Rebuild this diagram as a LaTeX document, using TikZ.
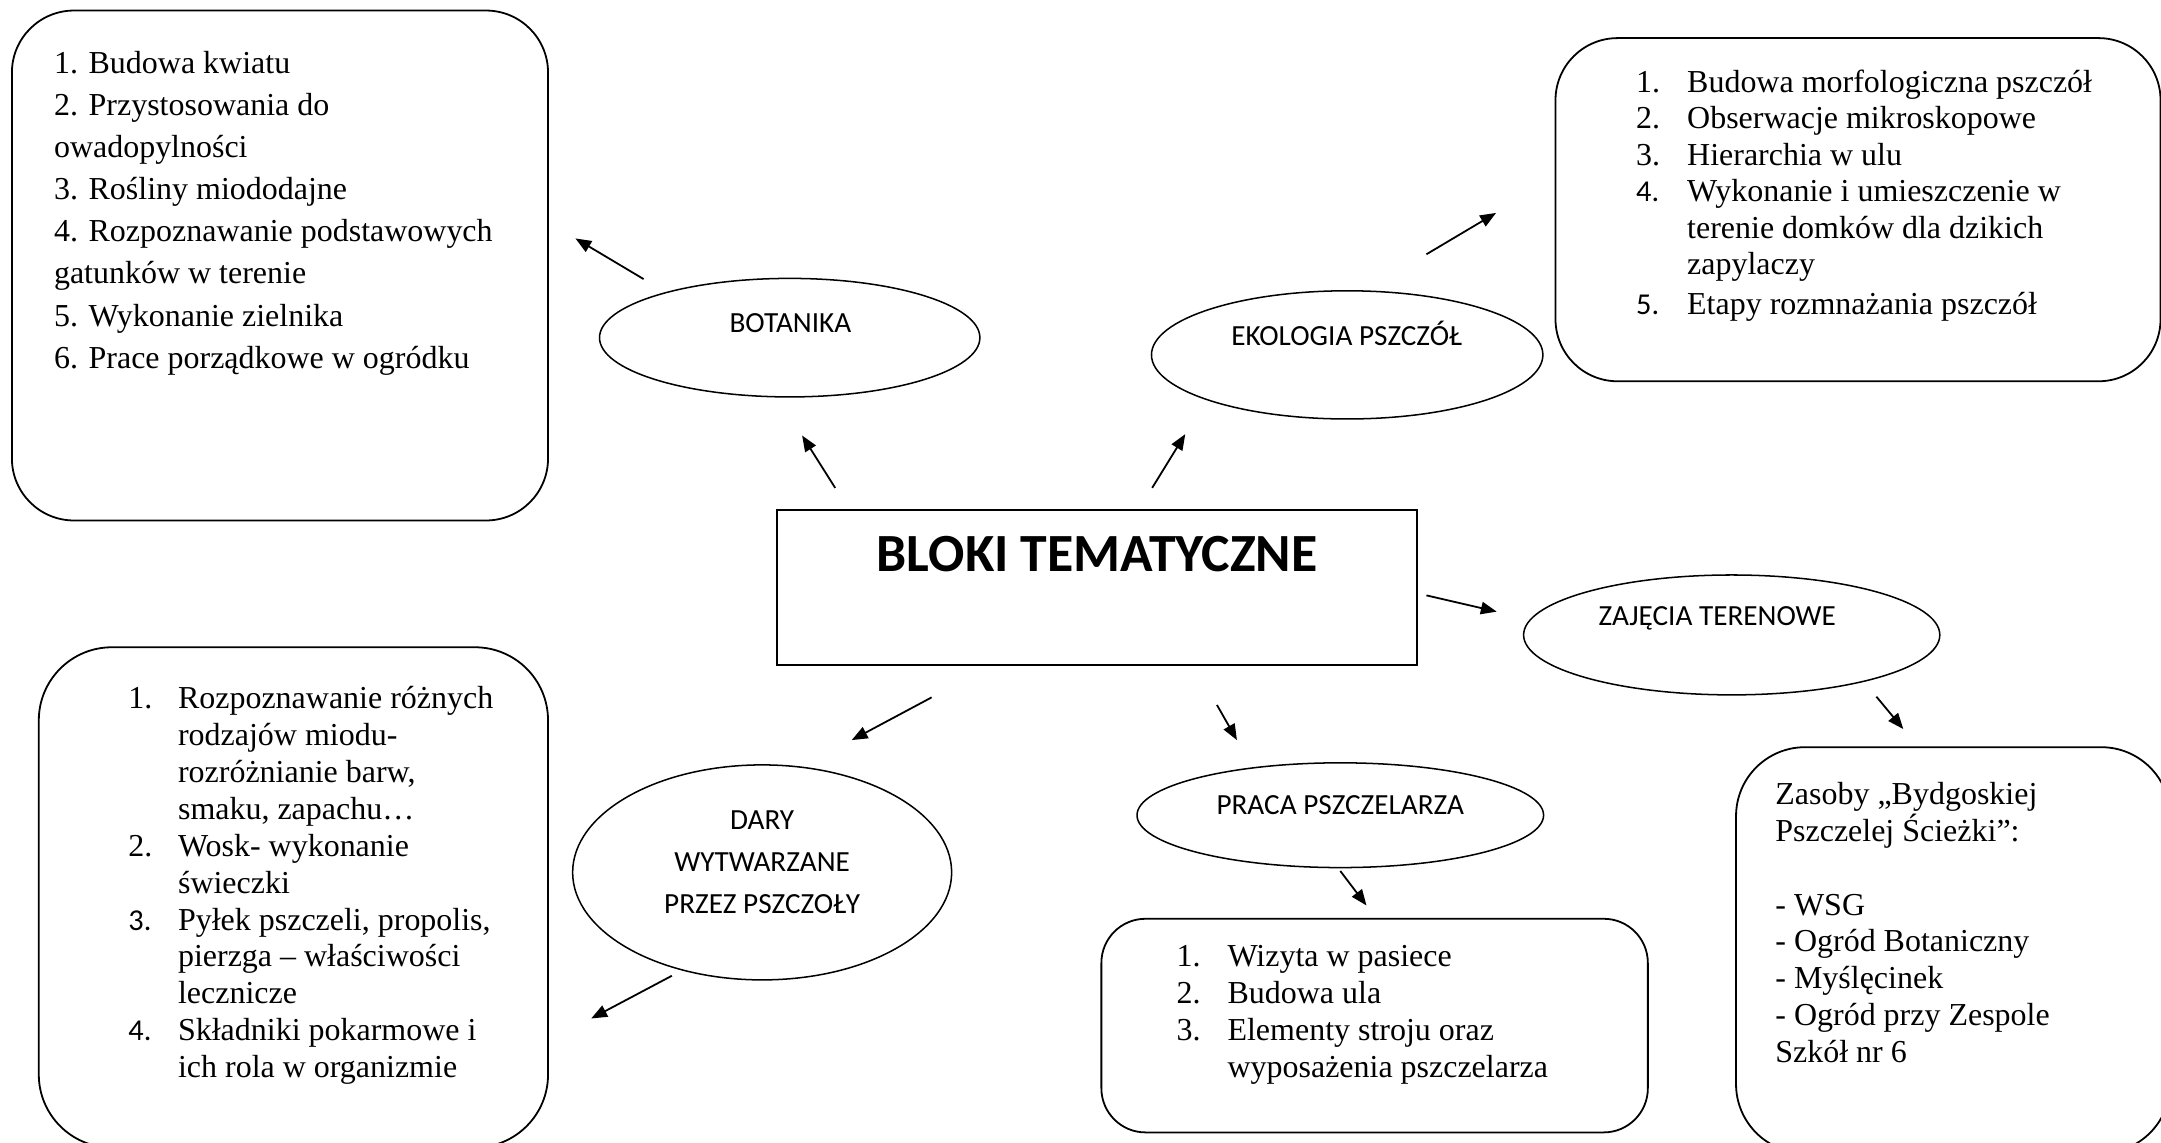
\documentclass[tikz,border=0pt]{standalone}
\usepackage{fontspec}
\setmainfont{Liberation Serif}
\newfontfamily\carlito{Carlito}
\usetikzlibrary{shapes.geometric,arrows.meta}
\begin{document}
\begin{tikzpicture}[x=1pt,y=-1pt,
  roundbox/.style={draw, line width=1.3pt, inner sep=0pt, anchor=north west},
  oval/.style={draw, ellipse, line width=1.1pt, inner sep=0pt},
  ser/.style={anchor=base west, inner sep=0pt, font=\fontsize{23.2}{28}\selectfont},
  sansnum/.style={anchor=base west, inner sep=0pt, font=\carlito\fontsize{22}{28}\selectfont},
  lab/.style={anchor=base, inner sep=0pt, font=\carlito\fontsize{21.2}{26}\selectfont},
  arr/.style={-{Triangle[length=11.5pt,width=9pt]}, line width=1.3pt}]
\useasboundingbox (0,0) rectangle (1568,829);
\clip (0,0) rectangle (1568,829);

% ---------- boxes ----------
\node[roundbox, rounded corners=45pt, minimum width=389pt, minimum height=370pt] (botbox) at (8,7) {};
\node[roundbox, rounded corners=45pt, minimum width=439pt, minimum height=249pt] (ekobox) at (1128,27) {};
\node[draw, line width=1.5pt, inner sep=0pt, anchor=north west, minimum width=464.5pt, minimum height=112.5pt] (main) at (563,369.5) {};
\node[roundbox, rounded corners=53pt, minimum width=369.5pt, minimum height=363pt] (darbox) at (27.5,469) {};
\node[roundbox, rounded corners=32pt, minimum width=396.5pt, minimum height=155pt] (prabox) at (798.5,666) {};
\node[roundbox, rounded corners=50pt, minimum width=315pt, minimum height=294.5pt] (zajbox) at (1259,541.5) {};

% ---------- ellipses ----------
\node[oval, minimum width=276pt, minimum height=86pt] (bot) at (573,245) {};
\node[oval, minimum width=284pt, minimum height=93pt] (eko) at (977.5,257.5) {};
\node[oval, minimum width=302pt, minimum height=87pt] (zaj) at (1256.5,460.7) {};
\node[oval, minimum width=295pt, minimum height=76pt] (pra) at (972.5,591.5) {};
\node[oval, minimum width=275pt, minimum height=156pt] (dar) at (553,633) {};

% ---------- labels ----------
\node[anchor=base, inner sep=0pt, font=\carlito\bfseries\fontsize{39}{44}\selectfont] (title) at (796,415) {BLOKI TEMATYCZNE};
\node[lab] (botl) at (573.5,241.5) {BOTANIKA};
\node[lab] (ekol) at (977,251) {EKOLOGIA PSZCZÓŁ};
\node[lab] (zajl) at (1246,453.5) {ZAJĘCIA TERENOWE};
\node[lab] (pral) at (972.5,591) {PRACA PSZCZELARZA};
\node[lab] (darl1) at (553,602) {DARY};
\node[lab] (darl2) at (553,632.5) {WYTWARZANE};
\node[lab] (darl3) at (553,663) {PRZEZ PSZCZOŁY};

% ---------- top-left list ----------
\foreach \t [count=\i from 0] in {1. Budowa kwiatu, 2. Przystosowania do, owadopylności,
  3. Rośliny miododajne, 4. Rozpoznawanie podstawowych, gatunków w terenie,
  5. Wykonanie zielnika, 6. Prace porządkowe w ogródku}
  \node[ser] (tl\i) at (39,53+30.6*\i) {\t};

% ---------- top-right list ----------
\node[ser] (trn1) at (1187,67) {1.};
\node[ser] (trn2) at (1187,93.5) {2.};
\node[ser] (trn3) at (1187,120) {3.};
\node[sansnum] (trn4) at (1187,146.5) {4.};
\node[sansnum] (trn5) at (1187,228.5) {5.};
\node[ser] (tr0) at (1224,67) {Budowa morfologiczna pszczół};
\node[ser] (tr1) at (1224,93.5) {Obserwacje mikroskopowe};
\node[ser] (tr2) at (1224,120) {Hierarchia w ulu};
\node[ser] (tr3) at (1224,146.5) {Wykonanie i umieszczenie w};
\node[ser] (tr4) at (1224,173) {terenie domków dla dzikich};
\node[ser] (tr5) at (1224,199.5) {zapylaczy};
\node[ser] (tr6) at (1224,228.5) {Etapy rozmnażania pszczół};

% ---------- bottom-left list ----------
\node[ser] (bln1) at (93,514) {1.};
\node[ser] (bln2) at (93,514+26.8*4) {2.};
\node[sansnum] (bln3) at (93,514+26.8*6) {3.};
\node[sansnum] (bln4) at (93,514+26.8*9) {4.};
\foreach \t [count=\i from 0] in {Rozpoznawanie różnych, rodzajów miodu-, {rozróżnianie barw,},
  {smaku, zapachu…}, Wosk- wykonanie, świeczki, {Pyłek pszczeli, propolis,},
  pierzga – właściwości, lecznicze, Składniki pokarmowe i, ich rola w organizmie}
  \node[ser] (bl\i) at (129,514+26.8*\i) {\t};

% ---------- bottom-middle list ----------
\node[ser] (bmn1) at (853.5,701) {1.};
\node[ser] (bmn2) at (853.5,728) {2.};
\node[ser] (bmn3) at (853.5,755) {3.};
\node[ser] (bm0) at (890.5,701) {Wizyta w pasiece};
\node[ser] (bm1) at (890.5,728) {Budowa ula};
\node[ser] (bm2) at (890.5,755) {Elementy stroju oraz};
\node[ser] (bm3) at (890.5,782) {wyposażenia pszczelarza};

% ---------- right list ----------
\node[ser] (r0) at (1288,584) {Zasoby „Bydgoskiej};
\node[ser] (r1) at (1288,610.7) {Pszczelej Ścieżki”:};
\node[ser] (r2) at (1288,664) {- WSG};
\node[ser] (r3) at (1288,690.7) {- Ogród Botaniczny};
\node[ser] (r4) at (1288,717.4) {- Myślęcinek};
\node[ser] (r5) at (1288,744) {- Ogród przy Zespole};
\node[ser] (r6) at (1288,770.7) {Szkół nr 6};

% ---------- arrow end points ----------
\coordinate (a1) at (606,354);     \coordinate (a2) at (582,316);
\coordinate (b1) at (467,202.5);   \coordinate (b2) at (417.5,173);
\coordinate (c1) at (836,354);     \coordinate (c2) at (860,315);
\coordinate (d1) at (1035,184.5);  \coordinate (d2) at (1085.5,154.5);
\coordinate (e1) at (1035,432);    \coordinate (e2) at (1086,443.8);
\coordinate (f1) at (1361.5,505.5);\coordinate (f2) at (1381,529);
\coordinate (g1) at (883,511.5);   \coordinate (g2) at (897.5,537);
\coordinate (h1) at (972.5,632);   \coordinate (h2) at (991.5,657);
\coordinate (i1) at (676,506);     \coordinate (i2) at (618,537);
\coordinate (j1) at (487.5,708);   \coordinate (j2) at (429,739);

\draw[arr] (a1) -- (a2);
\draw[arr] (b1) -- (b2);
\draw[arr] (c1) -- (c2);
\draw[arr] (d1) -- (d2);
\draw[arr] (e1) -- (e2);
\draw[arr] (f1) -- (f2);
\draw[arr] (g1) -- (g2);
\draw[arr] (h1) -- (h2);
\draw[arr] (i1) -- (i2);
\draw[arr] (j1) -- (j2);
\end{tikzpicture}
\end{document}
